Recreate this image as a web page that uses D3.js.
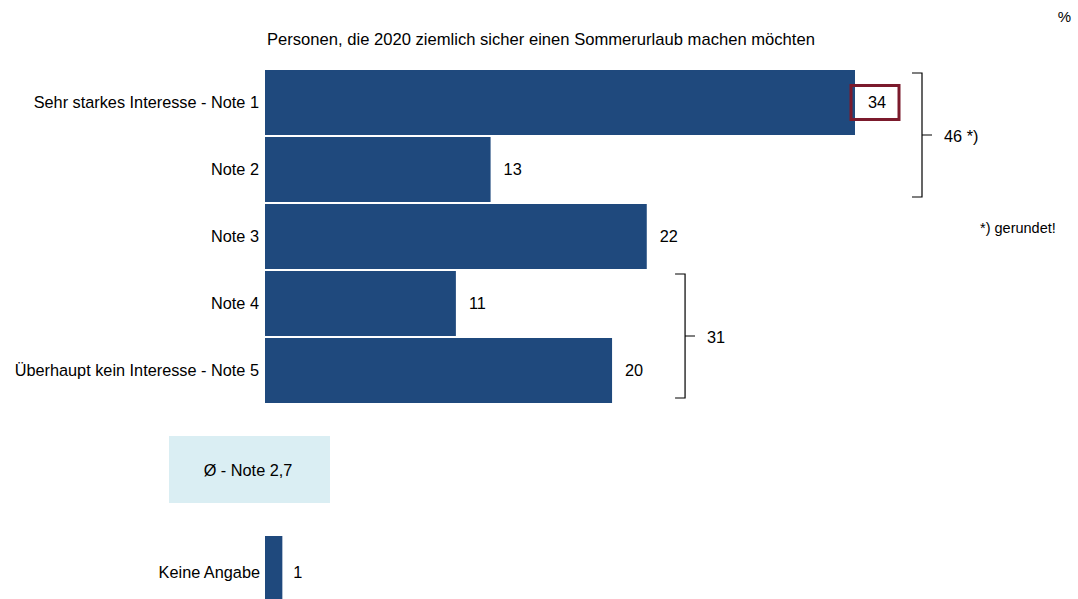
<!DOCTYPE html>
<html>
<head>
<meta charset="utf-8">
<script src="https://cdn.jsdelivr.net/npm/d3@7"></script>
<style>
  body { margin: 0; background: #fff; }
  text { font-family: "Liberation Sans", Arial, sans-serif; fill: #000; }
</style>
</head>
<body>
<svg id="chart"></svg>
<script>
// data
const categories = ["Sehr starkes Interesse - Note 1", "Note 2", "Note 3", "Note 4", "Überhaupt kein Interesse - Note 5"];
const values = [34, 13, 22, 11, 20];
const noAnswerLabel = ["Keine Angabe"];
const noAnswerValue = [1];
const groups = [
  {from: 0, to: 1, label: "46 *)"},
  {from: 3, to: 4, label: "31"}
];
const averageLabel = "Ø - Note 2,7";
const title = "Personen, die 2020 ziemlich sicher einen Sommerurlaub machen möchten";
const highlightIndex = 0;

const width = 1078, height = 599;
const barColor = "#1f497d";
const fs = 16.3;
// horizontal gap between the longest bar of a group and its bracket
const bracketGap = [67, 73];

const svg = d3.select("#chart")
    .attr("width", width)
    .attr("height", height);

// scales
const xScale = d3.scaleLinear()
    .domain([0, 34])
    .range([265, 855]);

const yScale = d3.scaleBand()
    .domain(categories)
    .range([70, 403])
    .paddingInner(0.03)
    .paddingOuter(0);

const yScale2 = d3.scaleBand()
    .domain(noAnswerLabel)
    .range([536, 600]);

// title + unit
svg.append("text")
    .attr("x", 267)
    .attr("y", 45)
    .attr("font-size", 16.6)
    .text(title);

svg.append("text")
    .attr("x", 1071)
    .attr("y", 22)
    .attr("text-anchor", "end")
    .attr("font-size", 15)
    .text("%");

// main bars
svg.selectAll(".bar")
    .data(values)
    .join("rect")
    .attr("class", "bar")
    .attr("x", xScale(0))
    .attr("y", (d, i) => yScale(categories[i]))
    .attr("width", d => xScale(d) - xScale(0))
    .attr("height", yScale.bandwidth())
    .attr("fill", barColor);

// category labels
svg.selectAll(".cat")
    .data(categories)
    .join("text")
    .attr("class", "cat")
    .attr("x", 259)
    .attr("y", d => yScale(d) + yScale.bandwidth() / 2)
    .attr("dy", "0.35em")
    .attr("text-anchor", "end")
    .attr("font-size", fs)
    .text(d => d);

// value labels
svg.selectAll(".val")
    .data(values)
    .join("text")
    .attr("class", "val")
    .attr("x", d => xScale(d) + 13)
    .attr("y", (d, i) => yScale(categories[i]) + yScale.bandwidth() / 2)
    .attr("dy", "0.35em")
    .attr("font-size", fs)
    .text(d => d);

// highlight box around top value
const hy = yScale(categories[highlightIndex]) + yScale.bandwidth() / 2;
svg.append("rect")
    .attr("x", xScale(values[highlightIndex]) - 4)
    .attr("y", hy - 17)
    .attr("width", 48)
    .attr("height", 34)
    .attr("fill", "none")
    .attr("stroke", "#7b1a2c")
    .attr("stroke-width", 3);

// brackets
groups.forEach((g, gi) => {
  const y0 = yScale(categories[g.from]) + 3;
  const y1 = yScale(categories[g.to]) + yScale.bandwidth() - 5;
  const bx = d3.max(values.slice(g.from, g.to + 1), d => xScale(d)) + bracketGap[gi];
  const ym = (y0 + y1) / 2;
  const path = d3.path();
  path.moveTo(bx - 10, y0);
  path.lineTo(bx, y0);
  path.lineTo(bx, y1);
  path.lineTo(bx - 10, y1);
  path.moveTo(bx, ym);
  path.lineTo(bx + 10, ym);
  svg.append("path")
    .attr("d", path.toString())
    .attr("fill", "none")
    .attr("stroke", "#000")
    .attr("stroke-width", 1.2);
  svg.append("text")
    .attr("x", bx + 22)
    .attr("y", ym + 1)
    .attr("dy", "0.35em")
    .attr("font-size", fs)
    .text(g.label);
});

svg.append("text")
    .attr("x", 980)
    .attr("y", 233)
    .attr("font-size", 14.5)
    .text("*) gerundet!");

// average box
svg.append("rect")
    .attr("x", 169)
    .attr("y", 436)
    .attr("width", 161)
    .attr("height", 67)
    .attr("fill", "#daeef3");

svg.append("text")
    .attr("x", 248)
    .attr("y", 470)
    .attr("dy", "0.35em")
    .attr("text-anchor", "middle")
    .attr("font-size", fs)
    .text(averageLabel);

// no answer
svg.selectAll(".bar2")
    .data(noAnswerValue)
    .join("rect")
    .attr("class", "bar2")
    .attr("x", xScale(0))
    .attr("y", (d, i) => yScale2(noAnswerLabel[i]))
    .attr("width", d => xScale(d) - xScale(0))
    .attr("height", yScale2.bandwidth())
    .attr("fill", barColor);

svg.selectAll(".cat2")
    .data(noAnswerLabel)
    .join("text")
    .attr("class", "cat2")
    .attr("x", 260)
    .attr("y", d => yScale2(d) + 36)
    .attr("dy", "0.35em")
    .attr("text-anchor", "end")
    .attr("font-size", fs)
    .text(d => d);

svg.selectAll(".val2")
    .data(noAnswerValue)
    .join("text")
    .attr("class", "val2")
    .attr("x", d => xScale(d) + 11)
    .attr("y", d => yScale2(noAnswerLabel[0]) + 36)
    .attr("dy", "0.35em")
    .attr("font-size", fs)
    .text(d => d);
</script>
</body>
</html>
